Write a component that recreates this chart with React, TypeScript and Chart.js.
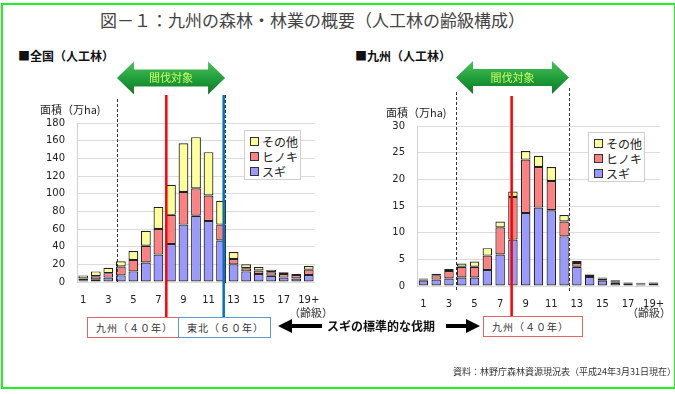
import React, { useEffect, useRef } from "react";
import { Chart, registerables } from "chart.js";
Chart.register(...registerables);

// ---- data ----
const ageClasses = ["1","2","3","4","5","6","7","8","9","10","11","12","13","14","15","16","17","18","19+"];

const zenkokuSugi = [2, 3, 5, 7.5, 12, 22, 31, 43, 65, 75, 69, 47, 20, 12, 9, 7, 5, 4, 8];
const zenkokuHinoki = [2, 3.5, 5, 10, 13, 19, 29, 33, 37, 31, 29, 18, 6, 3.5, 4, 4, 4, 4, 6];
const zenkokuOther = [3.5, 5.5, 6, 6, 10, 17, 25, 34, 55, 58, 49, 27, 8, 4.5, 4, 3, 2, 1, 4];

const kyushuSugi = [1.0, 1.2, 1.4, 1.6, 1.6, 3.0, 5.9, 8.7, 13.7, 14.7, 14.2, 9.3, 3.6, 1.7, 1.0, 0.6, 0.4, 0.3, 0.4];
const kyushuHinoki = [0.2, 0.8, 1.4, 2.0, 2.0, 2.7, 5.1, 8.0, 10.0, 7.6, 5.5, 2.8, 0.7, 0.4, 0.4, 0.3, 0.2, 0.2, 0.2];
const kyushuOther = [0.2, 0.3, 0.4, 0.6, 1.0, 1.4, 1.1, 1.0, 1.6, 2.1, 2.6, 1.2, 0.4, 0.1, 0.2, 0.2, 0.1, 0.1, 0.1];

const seriesNames = ["スギ", "ヒノキ", "その他"];
const seriesColors = ["#9999ff", "#ff8080", "#ffff99"];

const zenkokuTicks = { max: 180, step: 20 };
const kyushuTicks = { max: 30, step: 5 };

// marker positions in category-index units
const zenkokuMarks = { dashed: [2.69, 11.3], red: 6.63, blue: 11.21, arrow: [2.69, 11.32] };
const kyushuMarks = { dashed: [2.57, 11.36], red: 6.9, blue: null as number | null, arrow: [2.55, 11.38] };

const CJK = '"Noto Sans CJK JP", "Noto Sans", sans-serif';
const NUM = '"DejaVu Sans", sans-serif';

function doubleArrowPath(ctx: CanvasRenderingContext2D, x1: number, x2: number, cy: number, h: number, bh: number, head: number) {
  ctx.beginPath();
  ctx.moveTo(x1, cy);
  ctx.lineTo(x1 + head, cy - h / 2);
  ctx.lineTo(x1 + head, cy - bh / 2);
  ctx.lineTo(x2 - head, cy - bh / 2);
  ctx.lineTo(x2 - head, cy - h / 2);
  ctx.lineTo(x2, cy);
  ctx.lineTo(x2 - head, cy + h / 2);
  ctx.lineTo(x2 - head, cy + bh / 2);
  ctx.lineTo(x1 + head, cy + bh / 2);
  ctx.lineTo(x1 + head, cy + h / 2);
  ctx.closePath();
}

function makeOverlay(marks: any, geo: any) {
  return {
    id: "overlay",
    afterDatasetsDraw(chart: any) {
      const { ctx } = chart;
      const x = chart.scales.x;
      ctx.save();
      ctx.strokeStyle = "#333";
      ctx.lineWidth = 1;
      ctx.setLineDash([3, 2]);
      marks.dashed.forEach((v: number, i: number) => {
        const px = Math.round(x.getPixelForValue(v)) + 0.5;
        ctx.beginPath();
        ctx.moveTo(px, geo.dashTop[i]);
        ctx.lineTo(px, geo.dashBottom);
        ctx.stroke();
      });
      ctx.setLineDash([]);
      ctx.lineWidth = 2.5;
      ctx.strokeStyle = "#ff0000";
      let px = x.getPixelForValue(marks.red);
      ctx.beginPath();
      ctx.moveTo(px, geo.lineTop);
      ctx.lineTo(px, geo.lineBottom);
      ctx.stroke();
      if (marks.blue != null) {
        ctx.strokeStyle = "#0070c0";
        px = x.getPixelForValue(marks.blue);
        ctx.beginPath();
        ctx.moveTo(px, geo.lineTop);
        ctx.lineTo(px, geo.lineBottom);
        ctx.stroke();
      }
      const x1 = x.getPixelForValue(marks.arrow[0]);
      const x2 = x.getPixelForValue(marks.arrow[1]);
      const cy = geo.arrowY;
      const g = ctx.createLinearGradient(0, cy - 16, 0, cy + 16);
      g.addColorStop(0, "#4cc05a");
      g.addColorStop(0.5, "#22a03c");
      g.addColorStop(1, "#0f7a28");
      doubleArrowPath(ctx, x1, x2, cy, 33, 17, 17);
      ctx.fillStyle = g;
      ctx.fill();
      ctx.fillStyle = "#ccff66";
      ctx.font = `11px ${CJK}`;
      ctx.textAlign = "center";
      ctx.textBaseline = "middle";
      ctx.fillText("間伐対象", (x1 + x2) / 2, cy);
      ctx.restore();
    },
  };
}

function StackChart(props: any) {
  const ref = useRef<HTMLCanvasElement>(null);
  const { sugi, hinoki, other, ticks, marks, geo, w, h, pad, barPct, xPad } = props;
  useEffect(() => {
    const data = [sugi, hinoki, other];
    const chart = new Chart(ref.current as HTMLCanvasElement, {
      type: "bar",
      data: {
        labels: ageClasses,
        datasets: seriesNames.map((name, i) => ({
          label: name,
          data: data[i],
          backgroundColor: seriesColors[i],
          borderColor: "#222",
          borderWidth: 1.2,
          borderSkipped: false,
          barPercentage: barPct,
          categoryPercentage: 1,
        })),
      },
      options: {
        responsive: false,
        animation: false,
        devicePixelRatio: 1,
        layout: { padding: pad },
        plugins: { legend: { display: false }, tooltip: { enabled: false } },
        scales: {
          x: {
            stacked: true,
            grid: { display: false },
            border: { display: false },
            afterFit: (s: any) => { s.height = 25; },
            ticks: {
              autoSkip: false,
              maxRotation: 0,
              padding: xPad,
              color: "#222",
              font: { family: NUM, size: 10 },
              callback: (_v: any, i: number) => (i % 2 === 0 ? ageClasses[i] : ""),
            },
          },
          y: {
            stacked: true,
            min: 0,
            max: ticks.max,
            grid: { color: "#dcdcdc", drawTicks: false },
            border: { color: "#d0d0d0" },
            afterFit: (s: any) => { s.width = 37; },
            ticks: {
              stepSize: ticks.step,
              padding: 12,
              color: "#222",
              font: { family: NUM, size: 10 },
            },
          },
        },
      },
      plugins: [makeOverlay(marks, geo)],
    } as any);
    return () => chart.destroy();
  }, []);
  return <canvas ref={ref} width={w} height={h} style={{ width: w, height: h, display: "block" }} />;
}

function Legend({ left, top }: { left: number; top: number }) {
  const items = [2, 1, 0];
  return (
    <div style={{ position: "absolute", left, top, width: 57, height: 50, border: "1px solid #cfcfcf", background: "#fff", boxSizing: "border-box", paddingTop: 3 }}>
      {items.map((i) => (
        <div key={i} style={{ display: "flex", alignItems: "center", height: 15, paddingLeft: 5 }}>
          <span style={{ width: 7, height: 7, background: seriesColors[i], border: "1px solid #333", display: "inline-block", marginRight: 3 }} />
          <span style={{ fontFamily: CJK, fontSize: 12, lineHeight: "1", color: "#222", whiteSpace: "nowrap" }}>{seriesNames[i]}</span>
        </div>
      ))}
    </div>
  );
}

function T({ left, top, size, bold, color, children, ls }: any) {
  return (
    <div style={{ position: "absolute", left, top, fontFamily: CJK, fontSize: size, fontWeight: bold ? 700 : 400, color: color || "#333", lineHeight: "1", whiteSpace: "nowrap", letterSpacing: ls || 0 }}>
      {children}
    </div>
  );
}

function Box({ left, top, width, height, color, children }: any) {
  return (
    <div style={{ position: "absolute", left, top, width, height, border: `1px solid ${color}`, boxSizing: "border-box", display: "flex", alignItems: "center", paddingLeft: 8, fontFamily: CJK, fontSize: 10, color: "#333", whiteSpace: "nowrap", letterSpacing: 1, background: "#fff" }}>
      {children}
    </div>
  );
}

export default function App() {
  return (
    <div style={{ position: "absolute", left: 0, top: 0, width: 675, height: 394, background: "#fff", overflow: "hidden" }}>
      <div style={{ position: "absolute", left: 1, top: 3, width: 675, height: 386, border: "2px solid #22ee22", boxSizing: "border-box" }} />
      <T left={100} top={11} size={17} color="#444">図－１：九州の森林・林業の概要（人工林の齢級構成）</T>
      <T left={18} top={50} size={12} bold color="#111">■全国（人工林）</T>
      <T left={355} top={50} size={12} bold color="#111">■九州（人工林）</T>

      <div style={{ position: "absolute", left: 0, top: 40 }}>
        <StackChart
          sugi={zenkokuSugi} hinoki={zenkokuHinoki} other={zenkokuOther}
          ticks={zenkokuTicks} marks={zenkokuMarks} xPad={4}
          w={340} h={305} pad={{ left: 40, right: 25, top: 83, bottom: 38 }} barPct={0.78}
          geo={{ dashTop: [59, 55], dashBottom: 243, lineTop: 55, lineBottom: 277, arrowY: 38 }}
        />
      </div>
      <div style={{ position: "absolute", left: 340, top: 40 }}>
        <StackChart
          sugi={kyushuSugi} hinoki={kyushuHinoki} other={kyushuOther}
          ticks={kyushuTicks} marks={kyushuMarks} xPad={4}
          w={335} h={305} pad={{ left: 40, right: 15, top: 86, bottom: 34 }} barPct={0.74}
          geo={{ dashTop: [52, 48], dashBottom: 252, lineTop: 56, lineBottom: 276, arrowY: 37.5 }}
        />
      </div>

      <T left={40} top={104} size={11} color="#222">面積（万ha)</T>
      <T left={386} top={107} size={11} color="#222">面積（万ha)</T>
      <Legend left={244} top={130} />
      <Legend left={588} top={132} />

      <T left={289} top={307} size={11} color="#333">（齢級）</T>
      <T left={627} top={307} size={11} color="#333">（齢級）</T>

      <Box left={87} top={317} width={92} height={21} color="#e06666">九州（４０年）</Box>
      <Box left={178} top={317} width={93} height={21} color="#5b9bd5">東北（６０年）</Box>
      <Box left={483} top={316} width={100} height={21} color="#e06666">九州（４０年）</Box>

      <svg style={{ position: "absolute", left: 0, top: 0 }} width={675} height={394}>
        <polygon points="278,326 292,319 292,324 322,324 322,328 292,328 292,333" fill="#000" />
        <polygon points="480,326 466,319 466,324 446,324 446,328 466,328 466,333" fill="#000" />
      </svg>
      <T left={327} top={320} size={12} bold color="#111">スギの標準的な伐期</T>

      <T left={453} top={367} size={9} color="#333">資料：林野庁森林資源現況表（平成24年3月31日現在）</T>
    </div>
  );
}
